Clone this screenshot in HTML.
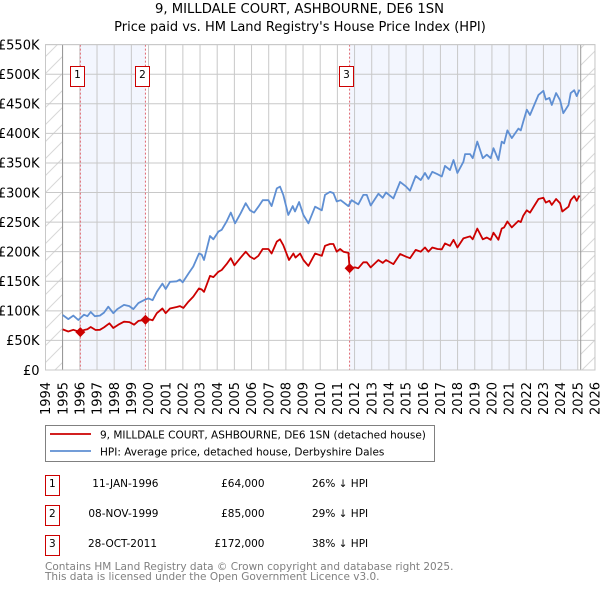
<!DOCTYPE html>
<html lang="en">
<head>
<meta charset="utf-8">
<title>9, Milldale Court price chart</title>
<style>
html,body{margin:0;padding:0;background:#fff;width:600px;height:590px;overflow:hidden}
svg{display:block}
text{font-family:"DejaVu Sans",sans-serif;fill:#000}
</style>
</head>
<body>
<svg id="chart" xmlns="http://www.w3.org/2000/svg" width="600" height="590" viewBox="0 0 600 590">
  <defs>
    <pattern id="hatch" patternUnits="userSpaceOnUse" width="17" height="17">
      <path d="M-2 2 L2 -2 M0 17 L17 0 M15 19 L19 15" stroke="#d8d8d8" stroke-width="1" fill="none"/>
    </pattern>
  </defs>
  <text x="299.5" y="13" font-size="13.2" text-anchor="middle">9, MILLDALE COURT, ASHBOURNE, DE6 1SN</text>
  <text x="300" y="31" font-size="13" text-anchor="middle">Price paid vs. HM Land Registry's House Price Index (HPI)</text>
  <g id="plot"></g>

  <g>
    <rect x="45.5" y="425.5" width="389" height="36" fill="#fff" stroke="#808080" stroke-width="1"/>
    <line x1="50" x2="91" y1="434" y2="434" stroke="#cc0000" stroke-width="1.8"/>
    <text x="100" y="438.5" font-size="10.5">9, MILLDALE COURT, ASHBOURNE, DE6 1SN (detached house)</text>
    <line x1="50" x2="91" y1="451" y2="451" stroke="#5f8fd3" stroke-width="1.8"/>
    <text x="100" y="455.5" font-size="10.5">HPI: Average price, detached house, Derbyshire Dales</text>
  </g>

  <g font-size="10.5">
    <g>
      <rect x="45.5" y="475.5" width="14" height="20" fill="#fff" stroke="#cc0000"/>
      <text x="52.3" y="487" text-anchor="middle">1</text>
      <text x="158.5" y="487" text-anchor="end">11-JAN-1996</text>
      <text x="264.5" y="487" text-anchor="end">£64,000</text>
      <text x="312" y="487">26% ↓ HPI</text>
    </g>
    <g>
      <rect x="45.5" y="505.5" width="14" height="20" fill="#fff" stroke="#cc0000"/>
      <text x="52.3" y="517" text-anchor="middle">2</text>
      <text x="158.5" y="517" text-anchor="end">08-NOV-1999</text>
      <text x="264.5" y="517" text-anchor="end">£85,000</text>
      <text x="312" y="517">29% ↓ HPI</text>
    </g>
    <g>
      <rect x="45.5" y="535.5" width="14" height="20" fill="#fff" stroke="#cc0000"/>
      <text x="52.3" y="547" text-anchor="middle">3</text>
      <text x="157" y="547" text-anchor="end">28-OCT-2011</text>
      <text x="264.5" y="547" text-anchor="end">£172,000</text>
      <text x="312" y="547">38% ↓ HPI</text>
    </g>
  </g>

  <text x="45" y="570" font-size="10.5" style="fill:#808080">Contains HM Land Registry data © Crown copyright and database right 2025.</text>
  <text x="45" y="580" font-size="10.5" style="fill:#808080">This data is licensed under the Open Government Licence v3.0.</text>
</svg>

<script>
const yearTicks = [1994,1995,1996,1997,1998,1999,2000,2001,2002,2003,2004,2005,2006,2007,2008,2009,2010,2011,2012,2013,2014,2015,2016,2017,2018,2019,2020,2021,2022,2023,2024,2025,2026];
const valueTicks = [0,50,100,150,200,250,300,350,400,450,500,550];
const valueTickLabels = ['£0','£50K','£100K','£150K','£200K','£250K','£300K','£350K','£400K','£450K','£500K','£550K'];

const hpiDates = [1995.0,1995.33,1995.62,1995.91,1996.24,1996.44,1996.63,1996.88,1997.17,1997.41,1997.66,1997.95,1998.18,1998.57,1998.88,1999.12,1999.41,1999.8,2000.0,2000.24,2000.48,2000.81,2001.0,2001.25,2001.64,2001.83,2001.99,2002.32,2002.61,2002.94,2003.1,2003.23,2003.58,2003.78,2004.07,2004.26,2004.55,2004.79,2005.04,2005.37,2005.66,2005.91,2006.15,2006.4,2006.65,2006.98,2007.17,2007.47,2007.66,2007.85,2008.14,2008.4,2008.53,2008.77,2009.02,2009.31,2009.7,2010.09,2010.28,2010.57,2010.77,2010.96,2011.19,2011.64,2011.83,2012.22,2012.51,2012.71,2012.94,2013.39,2013.64,2013.83,2014.26,2014.65,2015.0,2015.23,2015.56,2015.85,2016.1,2016.3,2016.53,2016.83,2017.08,2017.27,2017.56,2017.76,2017.99,2018.34,2018.44,2018.73,2018.88,2019.15,2019.47,2019.7,2019.93,2020.09,2020.38,2020.57,2020.71,2020.9,2021.16,2021.54,2021.68,2021.83,2022.03,2022.22,2022.71,2023.0,2023.14,2023.35,2023.49,2023.74,2023.97,2024.16,2024.46,2024.59,2024.79,2024.94,2025.1];
const hpiValues = [93,86,92,84.5,93.5,91,98,91,92,97,107,96,103,110,108,103,113,119,121,118,132,146,137,149,150,153,148,163,175,197,195,186,226.5,221,234,237,251,266,248,265,282,270,266,276,287,287,277,307,310,296,262,277,268,284,262,248,276,270,296,301,299,285,287,277,287,280,296,296,278,298,291,300,290,318,310,303,328,321,333,323,335,331,327,345,338,355,333,352,365,365,358,386,358,364,358,375,355,386,383,405,392,408,405,420,440,431,465,472,457,460,448,468,456,434,448,468,473,463,474];

const priceDates = [1995.0,1995.33,1995.62,1996.03,1996.24,1996.44,1996.63,1996.92,1997.17,1997.41,1997.72,1997.95,1998.24,1998.57,1998.88,1999.16,1999.41,1999.82,2000.0,2000.24,2000.48,2000.81,2001.0,2001.25,2001.64,2001.83,2002.03,2002.32,2002.61,2002.94,2003.1,2003.23,2003.58,2003.78,2004.07,2004.26,2004.55,2004.79,2005.0,2005.37,2005.66,2005.91,2006.15,2006.4,2006.65,2006.98,2007.17,2007.47,2007.66,2007.85,2008.18,2008.44,2008.56,2008.83,2009.02,2009.31,2009.7,2010.09,2010.28,2010.57,2010.77,2010.96,2011.16,2011.35,2011.64,2011.71,2012.03,2012.22,2012.51,2012.71,2012.94,2013.39,2013.64,2013.83,2014.26,2014.65,2015.0,2015.23,2015.56,2015.85,2016.1,2016.3,2016.53,2016.83,2017.08,2017.27,2017.56,2017.76,2017.99,2018.34,2018.73,2018.88,2019.15,2019.47,2019.7,2019.93,2020.09,2020.38,2020.57,2020.71,2020.9,2021.16,2021.54,2021.68,2021.83,2022.03,2022.22,2022.71,2023.0,2023.14,2023.35,2023.49,2023.74,2023.97,2024.1,2024.46,2024.59,2024.79,2024.94,2025.1];
const priceValues = [68.7,65,68,64,67.6,69,72.7,67.6,68,72,79,71,76.6,81.7,81,76.6,83,85,86,84,96,104,96,104,106.5,108,105,115.5,124,138,136,132,159,157,166,169,179,189,177,190,200,191.6,187.6,193,204.5,204.5,197,217,221,211,186,197,190,197,186,176,197,193,210,213,213,200,204.5,200,198,172,173.5,172,182,182,173.5,186,181,186,179,196,191.5,189,203,200,207,200,207,204.5,204,214,210,220,207,222.5,226,221,239,221,224,220,232,220,239,241,251,241,252,250,261,270,266,289,291,283,286,279,289,282,268,276,287,294,286,295];

const saleDates = [1996.03,1999.82,2011.71];
const saleValues = [64,85,172];
const saleLabels = ['1','2','3'];

const NS = 'http://www.w3.org/2000/svg';
const plot = document.getElementById('plot');
const plotLeft = 45.5, plotRight = 595, plotTop = 44.6, plotBottom = 370;
const xScale = year => plotLeft + (year - 1994) * 17.17;
const yScale = value => plotBottom - value * 0.5916;

function make(tag, attrs, parent) {
  const el = document.createElementNS(NS, tag);
  for (const k in attrs) el.setAttribute(k, attrs[k]);
  (parent || plot).appendChild(el);
  return el;
}

// shaded ownership spans
let el = make('rect', {x: xScale(saleDates[0]), y: plotTop, width: xScale(saleDates[1]) - xScale(saleDates[0]), height: plotBottom - plotTop, fill: '#f3f6fe'});


el = make('rect', {x: xScale(saleDates[2]), y: plotTop, width: xScale(2025) - xScale(saleDates[2]), height: plotBottom - plotTop, fill: '#f3f6fe'});



// out of range hatching
el = make('rect', {x: plotLeft, y: plotTop, width: xScale(1995) - plotLeft, height: plotBottom - plotTop, fill: 'url(#hatch)'});


el = make('rect', {x: 580.7, y: plotTop, width: plotRight - 580.7, height: plotBottom - plotTop, fill: 'url(#hatch)'});



// vertical grid + x labels
yearTicks.forEach(year => {
  const px = xScale(year);
  const line = make('line', {x1: px, x2: px, y1: plotTop, y2: plotBottom, stroke: '#c8c8c8', 'stroke-width': 1});
  
  
  const label = make('text', {x: px + 4.6, y: 415, 'font-size': 13, transform: 'rotate(-90 ' + (px + 4.6) + ' 415)'});
  label.textContent = year;
  
  
});

// horizontal grid + y labels
valueTicks.forEach((value, i) => {
  const py = yScale(value);
  const line = make('line', {x1: plotLeft, x2: plotRight, y1: py, y2: py, stroke: '#c8c8c8', 'stroke-width': 1});
  
  
  const label = make('text', {x: 39.5, y: py + 4.8, 'font-size': 13, 'text-anchor': 'end'});
  label.textContent = valueTickLabels[i];
  
  
});

// data range limits
el = make('line', {x1: 62.5, x2: 62.5, y1: plotTop, y2: plotBottom, stroke: '#999', 'stroke-width': 1});


el = make('line', {x1: 580.7, x2: 580.7, y1: plotTop, y2: plotBottom, stroke: '#999', 'stroke-width': 1});



// sale dashed lines
saleDates.forEach(date => {
  const dash = make('line', {x1: xScale(date), x2: xScale(date), y1: plotTop, y2: plotBottom, stroke: '#e06670', 'stroke-width': 1, 'stroke-dasharray': '2 2'});
  
  
});

function linePoints(dates, values) {
  return dates.map((d, i) => xScale(d).toFixed(1) + ',' + yScale(values[i]).toFixed(1)).join(' ');
}
el = make('polyline', {points: linePoints(hpiDates, hpiValues), fill: 'none', stroke: '#5f8fd3', 'stroke-width': 1.8, 'stroke-linejoin': 'round'});


el = make('polyline', {points: linePoints(priceDates, priceValues), fill: 'none', stroke: '#cc0000', 'stroke-width': 1.8, 'stroke-linejoin': 'round'});



// sale markers and numbered badges
saleDates.forEach((date, i) => {
  const cx = xScale(date), cy = yScale(saleValues[i]);
  const marker = make('polygon', {points: (cx - 5) + ',' + cy + ' ' + cx + ',' + (cy - 5) + ' ' + (cx + 5) + ',' + cy + ' ' + cx + ',' + (cy + 5), fill: '#cc0000'});
  
  
  const bx = Math.round(cx - 10.5) + 0.5;
  const box = make('rect', {x: bx, y: 66.5, width: 14, height: 20, fill: '#fff', stroke: '#cc0000', 'stroke-width': 1});
  
  
  const num = make('text', {x: bx + 7, y: 78, 'font-size': 10.5, 'text-anchor': 'middle'});
  num.textContent = saleLabels[i];
  
  
});

// plot frame
el = make('rect', {x: plotLeft, y: plotTop, width: plotRight - plotLeft, height: plotBottom - plotTop, fill: 'none', stroke: '#c8c8c8', 'stroke-width': 1});


</script>
</body>
</html>
